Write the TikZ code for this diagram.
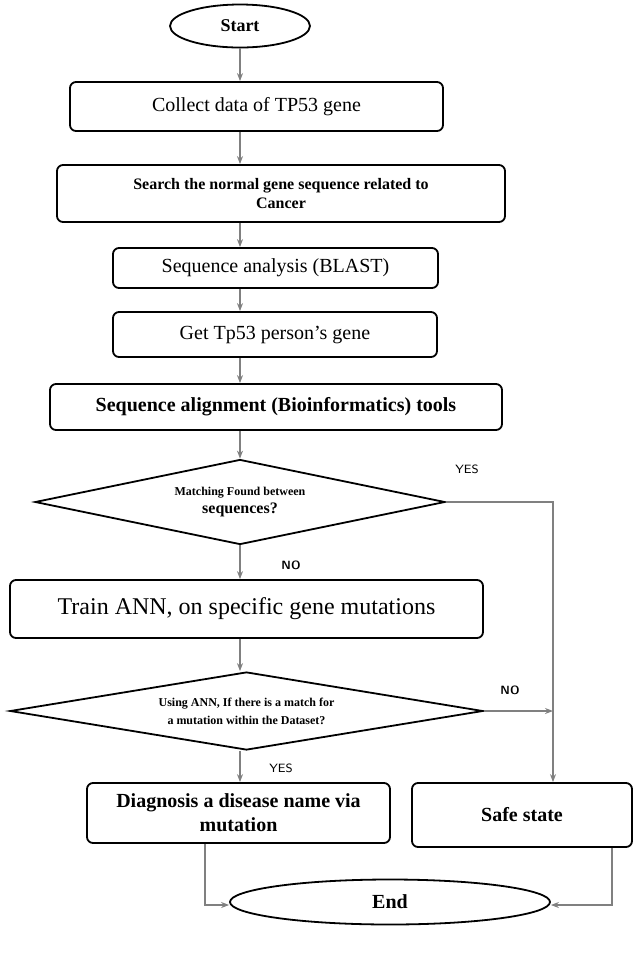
\documentclass[tikz,border=0pt]{standalone}
\usepackage{fontspec}
\setmainfont{Liberation Serif}
\usetikzlibrary{shapes.geometric,arrows.meta}
\begin{document}
\begin{tikzpicture}[x=0.5pt,y=-0.5pt,
  box/.style={draw,rounded corners=3pt,line width=0.9pt,align=center,inner sep=0pt},
  dia/.style={draw,diamond,line width=0.9pt,align=center,inner sep=0pt},
  ell/.style={draw,ellipse,line width=0.9pt,inner sep=0pt},
  con/.style={draw=gray,line width=0.6pt,-{Stealth[length=4pt]}},
  lbl/.style={font=\fontsize{6}{7}\selectfont\sffamily}]
\useasboundingbox (0,0) rectangle (640,955);
\node[ell,minimum width=70pt,minimum height=21.5pt,font=\bfseries\small] (start) at (240,26) {Start};
\node[box,minimum width=186.5pt,minimum height=24.5pt] (collect) at (256.5,106.5) {Collect data of TP53 gene};
\node[box,minimum width=224pt,minimum height=28.5pt,font=\bfseries\footnotesize] (search) at (281,193.5) {Search the normal gene sequence related to\\Cancer};
\node[box,minimum width=162.5pt,minimum height=20pt] (blast) at (275.5,268) {Sequence analysis (BLAST)};
\node[box,minimum width=162pt,minimum height=22.5pt] (get) at (275,334.5) {Get Tp53 person's gene};
\node[box,minimum width=226pt,minimum height=23pt,font=\bfseries] (align) at (276,407) {Sequence alignment (Bioinformatics) tools};
\node[dia,minimum width=205pt,minimum height=42.5pt,aspect=4.8,font=\bfseries\fontsize{6}{9}\selectfont] (match) at (240,502) {Matching Found between\\{\footnotesize sequences?}};
\node[box,minimum width=236.5pt,minimum height=29pt,font=\large] (train) at (246.5,609) {Train ANN, on specific gene mutations};
\node[dia,minimum width=236.5pt,minimum height=39pt,aspect=6,font=\bfseries\fontsize{6}{9}\selectfont] (using) at (246.5,711) {Using ANN, If there is a match for\\a mutation within the Dataset?};
\node[box,minimum width=151.5pt,minimum height=30pt,font=\bfseries] (diag) at (238.5,813) {Diagnosis a disease name via\\mutation};
\node[box,minimum width=110pt,minimum height=32pt,font=\bfseries] (safe) at (522,815) {Safe state};
\node[ell,minimum width=160pt,minimum height=22.5pt,font=\bfseries] (end) at (390,902) {End};
\coordinate (c1) at (553,502);
\coordinate (c2) at (553,711);
\coordinate (c3) at (205,905);
\coordinate (c4) at (612,905);
\draw[con] (start.south) -- (collect.north -| start.south);
\draw[con] (collect.south -| 240,0) -- (search.north -| 240,0);
\draw[con] (search.south -| 240,0) -- (blast.north -| 240,0);
\draw[con] (blast.south -| 240,0) -- (get.north -| 240,0);
\draw[con] (get.south -| 240,0) -- (align.north -| 240,0);
\draw[con] (align.south -| 240,0) -- (match.north);
\draw[con] (match.south) -- (train.north -| 240,0);
\draw[con] (train.south -| 240,0) -- (using.north -| 240,0);
\draw[con] (using.south -| 240,0) -- (diag.north -| 240,0);
\draw[con] (match.east) -- (c1) -- (safe.north -| c1);
\draw[con] (using.east) -- (c2);
\draw[con] (diag.south -| c3) -- (c3) -- (end.west |- c3);
\draw[con] (safe.south -| c4) -- (c4) -- (end.east |- c4);
\node[lbl] at (467,469) {YES};
\node[lbl,font=\bfseries\fontsize{6}{7}\selectfont\sffamily] at (291,565) {NO};
\node[lbl,font=\bfseries\fontsize{6}{7}\selectfont\sffamily] at (510,690) {NO};
\node[lbl] at (281,768) {YES};
\end{tikzpicture}
\end{document}
